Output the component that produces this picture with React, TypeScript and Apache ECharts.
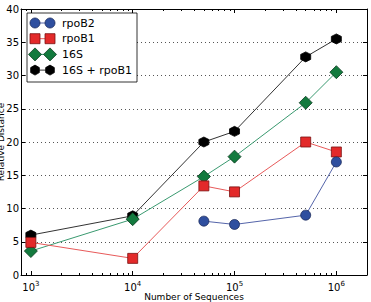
import React, { useEffect, useRef } from "react";
import * as echarts from "echarts";

const xValues = [1e3, 1e4, 5e4, 1e5, 5e5, 1e6];
const rpoB2X = [5e4, 1e5, 5e5, 1e6];
const rpoB2 = [8.1, 7.6, 9.0, 17.0];
const rpoB1 = [4.9, 2.5, 13.4, 12.5, 20.0, 18.5];
const s16 = [3.6, 8.4, 14.8, 17.8, 25.9, 30.5];
const s16rpoB1 = [6.0, 8.9, 20.0, 21.6, 32.8, 35.5];
const seriesNames = ["rpoB2", "rpoB1", "16S", "16S + rpoB1"];
const majorX = [1e3, 1e4, 1e5, 1e6];
const xMin = 800;
const xMax = 2e6;

const HEX = "path://M0,-10 L8.66,-5 L8.66,5 L0,10 L-8.66,5 L-8.66,-5 Z";

const lg = (v: number) => Math.log10(v);

function minorTicks(): number[] {
  const out: number[] = [];
  for (let e = 2; e <= 6; e++) {
    for (let k = 2; k <= 9; k++) {
      const v = k * Math.pow(10, e);
      if (v >= xMin && v <= xMax) out.push(lg(v));
    }
  }
  return out;
}

export default function App() {
  const ref = useRef<HTMLDivElement>(null);
  useEffect(() => {
    if (!ref.current) return;
    const chart = echarts.init(ref.current, null, { renderer: "svg" });
    const font = "DejaVu Sans";
    const major = majorX.map(lg);
    const minor = minorTicks();
    const baseX = {
      type: "value" as const,
      min: lg(xMin),
      max: lg(xMax),
      splitLine: { show: false },
    };
    const mk = (color: string, border: string) => ({ color, borderColor: border, borderWidth: 0.8 });
    const legendItems = [
      { name: seriesNames[0], kind: "circle", fill: "#2f4f9f", stroke: "#1a2a5a", line: "#5565aa" },
      { name: seriesNames[1], kind: "rect", fill: "#e32a2a", stroke: "#7a1010", line: "#e85a5a" },
      { name: seriesNames[2], kind: "diamond", fill: "#137a3e", stroke: "#0a3a1e", line: "#3a9a70" },
      { name: seriesNames[3], kind: "hex", fill: "#000000", stroke: "#000000", line: "#333333" },
    ];
    const Z = 100;
    const markerGraphic = (kind: string, cx: number, cy: number, fill: string, stroke: string) => {
      const style = { fill, stroke, lineWidth: 0.8 };
      if (kind === "circle") return { type: "circle", z: Z + 2, shape: { cx, cy, r: 5 }, style };
      if (kind === "rect") return { type: "rect", z: Z + 2, shape: { x: cx - 5, y: cy - 5, width: 10, height: 10 }, style };
      if (kind === "diamond")
        return { type: "polygon", z: Z + 2, shape: { points: [[cx, cy - 6.5], [cx + 6.5, cy], [cx, cy + 6.5], [cx - 6.5, cy]] }, style };
      const pts: number[][] = [];
      for (let i = 0; i < 6; i++) {
        const a = (Math.PI / 3) * i - Math.PI / 2;
        pts.push([cx + 5 * Math.cos(a), cy + 5 * Math.sin(a)]);
      }
      return { type: "polygon", z: Z + 2, shape: { points: pts }, style };
    };
    const legendChildren: any[] = [
      { type: "rect", z: Z, shape: { x: 27, y: 13, width: 110, height: 69 }, style: { fill: "#ffffff", stroke: "#000000", lineWidth: 0.8 } },
    ];
    legendItems.forEach((it, i) => {
      const y = 23 + i * 15.7;
      legendChildren.push({ type: "line", z: Z + 1, shape: { x1: 35, y1: y, x2: 50, y2: y }, style: { stroke: it.line, lineWidth: 1 } });
      legendChildren.push(markerGraphic(it.kind, 35, y, it.fill, it.stroke));
      legendChildren.push(markerGraphic(it.kind, 50, y, it.fill, it.stroke));
      legendChildren.push({
        type: "text",
        z: Z + 2,
        x: 62,
        y,
        style: { text: it.name, fontSize: 11, fontFamily: font, fill: "#000", verticalAlign: "middle" },
      });
    });

    chart.setOption({
      animation: false,
      textStyle: { fontFamily: font },
      grid: { left: 21, right: 4, top: 9, bottom: 27, containLabel: false, outerBoundsMode: "none" },
      xAxis: [
        {
          ...baseX,
          position: "bottom",
          name: "Number of Sequences",
          nameLocation: "middle",
          nameGap: 17,
          nameMoveOverlap: false,
          nameTextStyle: { fontSize: 9, color: "#000", fontFamily: font },
          axisLine: { show: true, lineStyle: { color: "#000", width: 1 } },
          axisTick: { show: true, inside: true, length: 4, customValues: major, lineStyle: { color: "#000" } },
          axisLabel: {
            show: true,
            customValues: major,
            margin: 5,
            formatter: (v: number) => `{b|10}{s|${Math.round(v)}}`,
            rich: {
              b: { fontSize: 10, color: "#000", fontFamily: font },
              s: { fontSize: 7, color: "#000", fontFamily: font, padding: [0, 0, 8, 0] },
            },
          },
        },
        {
          ...baseX,
          position: "bottom",
          axisLine: { show: false },
          axisLabel: { show: false },
          axisTick: { show: true, inside: true, length: 2, customValues: minor, lineStyle: { color: "#000" } },
        },
        {
          ...baseX,
          position: "top",
          axisLine: { show: true, lineStyle: { color: "#000", width: 1 } },
          axisLabel: { show: false },
          axisTick: { show: true, inside: true, length: 4, customValues: major, lineStyle: { color: "#000" } },
        },
        {
          ...baseX,
          position: "top",
          axisLine: { show: false },
          axisLabel: { show: false },
          axisTick: { show: true, inside: true, length: 2, customValues: minor, lineStyle: { color: "#000" } },
        },
      ],
      yAxis: [
        {
          type: "value",
          min: 0,
          max: 40,
          interval: 5,
          position: "left",
          name: "Relative Distance",
          nameLocation: "middle",
          nameGap: 16,
          nameMoveOverlap: false,
          nameTextStyle: { fontSize: 9, color: "#000", fontFamily: font },
          axisLine: { show: true, lineStyle: { color: "#000", width: 1 } },
          axisTick: { show: true, inside: true, length: 4, lineStyle: { color: "#000" } },
          axisLabel: { fontSize: 10, color: "#000", margin: 2, fontFamily: font },
          splitLine: { show: true, lineStyle: { color: "#555", type: [1, 3], width: 1 } },
        },
        {
          type: "value",
          min: 0,
          max: 40,
          interval: 5,
          position: "right",
          axisLine: { show: true, lineStyle: { color: "#000", width: 1 } },
          axisTick: { show: true, inside: true, length: 4, lineStyle: { color: "#000" } },
          axisLabel: { show: false },
          splitLine: { show: false },
        },
      ],
      series: [
        {
          name: seriesNames[0],
          type: "line",
          data: rpoB2X.map((x, i) => [lg(x), rpoB2[i]]),
          symbol: "circle",
          symbolSize: 10,
          lineStyle: { color: "#5565aa", width: 1 },
          itemStyle: mk("#2f4f9f", "#1a2a5a"),
          z: 5,
        },
        {
          name: seriesNames[1],
          type: "line",
          data: xValues.map((x, i) => [lg(x), rpoB1[i]]),
          symbol: "rect",
          symbolSize: 10,
          lineStyle: { color: "#e85a5a", width: 1 },
          itemStyle: mk("#e32a2a", "#7a1010"),
          z: 4,
        },
        {
          name: seriesNames[2],
          type: "line",
          data: xValues.map((x, i) => [lg(x), s16[i]]),
          symbol: "diamond",
          symbolSize: 13,
          lineStyle: { color: "#3a9a70", width: 1 },
          itemStyle: mk("#137a3e", "#0a3a1e"),
          z: 3,
        },
        {
          name: seriesNames[3],
          type: "line",
          data: xValues.map((x, i) => [lg(x), s16rpoB1[i]]),
          symbol: HEX,
          symbolSize: 10,
          lineStyle: { color: "#333333", width: 1 },
          itemStyle: mk("#000000", "#000000"),
          z: 2,
        },
      ],
      graphic: legendChildren,
    });
    return () => chart.dispose();
  }, []);
  return (
    <div
      ref={ref}
      style={{ position: "fixed", left: 0, top: 0, width: 371, height: 302, background: "#fff" }}
    />
  );
}
